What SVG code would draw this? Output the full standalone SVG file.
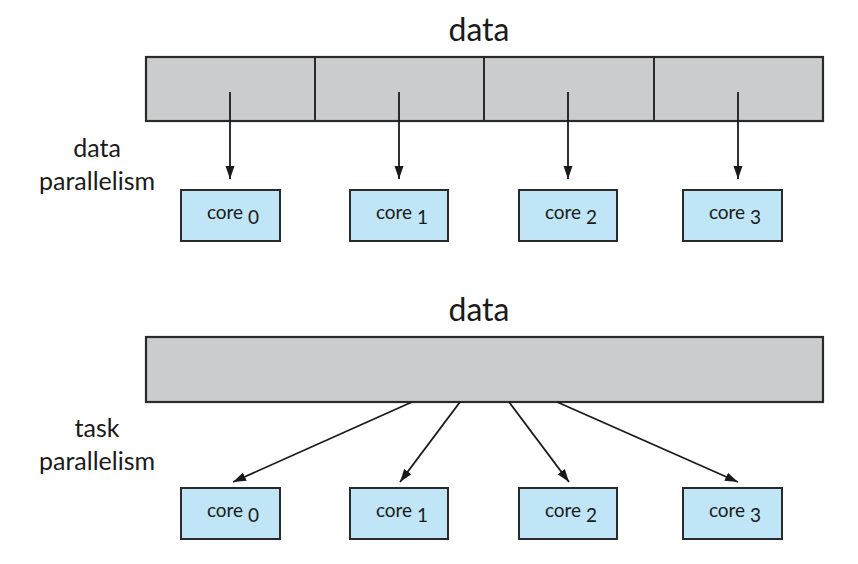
<svg xmlns="http://www.w3.org/2000/svg" width="858" height="564" viewBox="0 0 858 564">
<style>
.bar{fill:#cbcccd;stroke:#2a2a2a;stroke-width:2.2}
.core{fill:#bfe5f6;stroke:#2a2a2a;stroke-width:2}
.t{font-family:Lato,"Liberation Sans",sans-serif;fill:#1a1a1a}
.big{font-size:32px}
.lab{font-size:25px}
.c{font-size:19px}
.arr{stroke:#1a1a1a;stroke-width:1.8;fill:none;marker-end:url(#ah)}
</style>
<defs>
<marker id="ah" viewBox="0 0 13 10" refX="13" refY="5" markerWidth="13" markerHeight="10" markerUnits="userSpaceOnUse" orient="auto">
<path d="M0,0.5 L13,5 L0,9.5 Z" fill="#1a1a1a"/>
</marker>
</defs>
<rect width="858" height="564" fill="#ffffff"/>
<g id="top-data">
<text class="t big" x="479" y="41" text-anchor="middle">data</text>
<rect class="bar" x="146" y="57" width="677" height="64"/>
<line x1="315" y1="57" x2="315" y2="121" stroke="#2a2a2a" stroke-width="2"/>
<line x1="484" y1="57" x2="484" y2="121" stroke="#2a2a2a" stroke-width="2"/>
<line x1="654" y1="57" x2="654" y2="121" stroke="#2a2a2a" stroke-width="2"/>
</g>
<g id="label-data-par">
<text class="t lab" x="97" y="157" text-anchor="middle">data</text>
<text class="t lab" x="97" y="190" text-anchor="middle">parallelism</text>
</g>
<g id="top-core0"><rect class="core" x="181" y="190" width="99" height="51"/><text class="t c" x="233" y="219" text-anchor="middle">core <tspan dy="5">0</tspan></text></g>
<g id="top-core1"><rect class="core" x="350" y="190" width="98" height="51"/><text class="t c" x="402" y="219" text-anchor="middle">core <tspan dy="5">1</tspan></text></g>
<g id="top-core2"><rect class="core" x="519" y="190" width="98" height="51"/><text class="t c" x="571" y="219" text-anchor="middle">core <tspan dy="5">2</tspan></text></g>
<g id="top-core3"><rect class="core" x="683" y="190" width="99" height="51"/><text class="t c" x="735" y="219" text-anchor="middle">core <tspan dy="5">3</tspan></text></g>
<g id="bottom-data">
<text class="t big" x="479" y="321" text-anchor="middle">data</text>
<rect class="bar" x="146" y="337" width="677" height="65"/>
</g>
<g id="label-task-par">
<text class="t lab" x="97" y="437" text-anchor="middle">task</text>
<text class="t lab" x="97" y="470" text-anchor="middle">parallelism</text>
</g>
<g id="bot-core0"><rect class="core" x="181" y="488" width="99" height="51"/><text class="t c" x="233" y="517" text-anchor="middle">core <tspan dy="5">0</tspan></text></g>
<g id="bot-core1"><rect class="core" x="350" y="488" width="98" height="51"/><text class="t c" x="402" y="517" text-anchor="middle">core <tspan dy="5">1</tspan></text></g>
<g id="bot-core2"><rect class="core" x="519" y="488" width="98" height="51"/><text class="t c" x="571" y="517" text-anchor="middle">core <tspan dy="5">2</tspan></text></g>
<g id="bot-core3"><rect class="core" x="683" y="488" width="99" height="51"/><text class="t c" x="735" y="517" text-anchor="middle">core <tspan dy="5">3</tspan></text></g>
<g id="connectors">
<line class="arr" x1="230" y1="92" x2="230" y2="179"/>
<line class="arr" x1="399" y1="92" x2="399" y2="179"/>
<line class="arr" x1="568" y1="92" x2="568" y2="179"/>
<line class="arr" x1="738" y1="92" x2="738" y2="179"/>
<line class="arr" x1="412" y1="402" x2="233" y2="482"/>
<line class="arr" x1="460" y1="402" x2="400" y2="482"/>
<line class="arr" x1="509" y1="402" x2="569" y2="482"/>
<line class="arr" x1="557" y1="402" x2="738" y2="482"/>
</g>
</svg>
